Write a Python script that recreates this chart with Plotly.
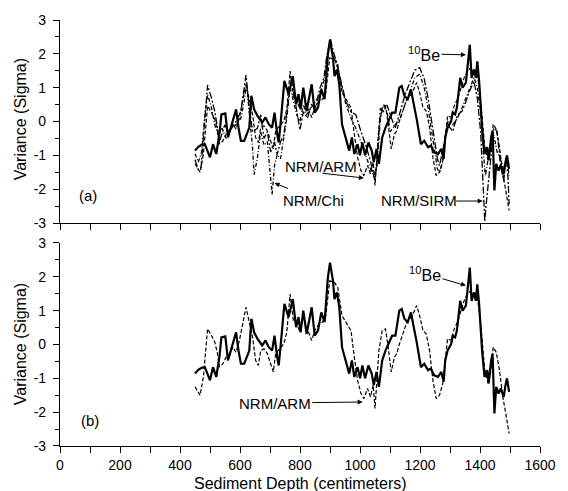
import plotly.graph_objects as go

# ---------------- data ----------------
be_depth = [450, 461, 472, 483, 500, 510, 521, 532, 538, 551, 560, 570, 579, 587, 595, 603, 614, 631, 638, 647,
            658, 674, 685, 696, 707, 715, 724, 729, 735, 748, 762, 776, 787, 795, 802, 811, 822, 839, 849, 860,
            871, 882, 893, 900, 910, 915, 923, 931, 940, 953, 964, 973, 981, 992, 1000, 1008, 1017, 1028, 1039, 1046,
            1055, 1063, 1074, 1085, 1095, 1107, 1118, 1131, 1139, 1148, 1159, 1170, 1178, 1189, 1203, 1214, 1227, 1236, 1247, 1260,
            1271, 1279, 1284, 1292, 1304, 1309, 1317, 1323, 1334, 1342, 1353, 1360, 1366, 1372, 1380, 1386, 1391, 1397, 1402, 1407,
            1415, 1424, 1429, 1437, 1442, 1448, 1454, 1462, 1469, 1479, 1485, 1490, 1497]
be_val = [-0.86, -0.75, -0.69, -0.67, -1.06, -0.67, -0.96, -0.32, 0.21, 0.24, -0.47, -0.18, 0.07, 0.36, -0.18, -0.57, -0.57, -0.18, 0.76, 0.36,
          0.17, -0.03, 0.12, -0.08, -0.18, 0.26, -0.37, -0.62, -0.08, 1.20, 0.81, 1.34, 0.51, 0.81, 0.36, 1.00, 0.31, 1.10, 0.26, 0.41,
          0.95, 0.66, 1.98, 2.42, 1.88, 1.34, 1.54, 1.10, -0.08, -0.52, -0.86, -0.47, -0.96, -0.67, -1.00, -0.62, -1.00, -0.62, -0.86, -1.20,
          -0.81, -1.25, -0.47, -0.18, 0.02, 0.26, 0.26, 1.00, 1.05, 0.76, 0.66, 0.95, 0.56, 0.07, -0.67, -0.57, -0.76, -0.71, -0.91, -0.96,
          -0.81, -1.10, -0.47, -0.18, 0.02, 0.26, 0.21, 0.41, 1.29, 1.00, 1.15, 1.78, 2.27, 1.29, 1.54, 1.29, 1.78, 1.20, 0.46, -0.18,
          -0.96, -0.76, -1.15, -0.47, -0.27, -2.04, -1.25, -1.45, -1.30, -1.55, -1.20, -1.00, -1.40]

arm_depth = [450, 467, 478, 492, 505, 516, 525, 532, 543, 554, 565, 576, 587, 598, 609, 620, 631, 642, 652, 661,
             669, 680, 691, 698, 711, 719, 735, 746, 756, 767, 778, 789, 798, 811, 822, 839, 849, 860, 875, 886,
             899, 915, 926, 940, 953, 970, 981, 992, 1003, 1013, 1025, 1035, 1044, 1050, 1057, 1063, 1074, 1085, 1094, 1104,
             1115, 1123, 1128, 1139, 1156, 1172, 1189, 1200, 1210, 1221, 1232, 1243, 1254, 1265, 1276, 1284, 1292, 1304, 1314, 1325,
             1336, 1347, 1358, 1369, 1380, 1391, 1400, 1408, 1416, 1427, 1435, 1444, 1454, 1465, 1476, 1486, 1497]
arm_val = [-1.25, -1.50, -0.96, 0.46, 0.26, 0.07, -0.27, -0.67, -0.57, -0.37, -0.32, -0.08, -0.23, 0.12, 0.61, 1.10, 0.66, 0.21, -0.47, -0.62,
           -0.18, -0.13, -0.27, -0.47, -0.81, -0.27, -0.08, 0.02, 0.36, 1.49, 0.71, 0.61, 0.41, 0.85, 0.51, 0.12, 0.41, 0.56, 0.66, 0.85,
           1.88, 1.83, 1.68, 0.85, 0.66, 0.41, -0.37, -1.06, -1.45, -1.60, -1.30, -1.55, -1.20, -1.89, -0.96, -0.18, 0.41, 0.46, -0.08, -0.81,
           -0.37, -0.27, -0.08, 0.21, 0.66, 0.81, 1.15, 0.81, 0.41, 0.31, -0.18, -1.06, -1.60, -1.50, -1.15, -0.47, 0.17, 0.12, 0.46, 0.66,
           0.95, 1.29, 1.49, 1.59, 1.44, 1.40, 0.81, -0.08, -0.76, -1.15, -0.86, -0.08, -0.23, -0.76, -1.55, -2.04, -2.63]

sirm_depth = [450, 461, 470, 481, 492, 505, 516, 532, 549, 564, 587, 603, 620, 631, 642, 658, 669, 680, 691, 702,
              715, 724, 735, 746, 756, 770, 778, 789, 800, 811, 825, 838, 852, 866, 880, 888, 901, 910, 920, 937,
              953, 970, 986, 1003, 1019, 1035, 1050, 1057, 1068, 1079, 1090, 1101, 1117, 1134, 1150, 1167, 1183, 1199, 1214, 1227,
              1238, 1249, 1258, 1265, 1273, 1282, 1293, 1309, 1325, 1340, 1353, 1364, 1380, 1391, 1402, 1410, 1416, 1420, 1435, 1446,
              1457, 1468, 1479, 1487, 1493, 1497]
sirm_val = [-1.13, -1.42, -1.37, -0.20, 1.08, 0.69, 0.30, -0.59, -0.10, -0.30, 0.00, 0.30, 1.37, 0.39, -0.30, -0.20, 0.20, -0.50, -0.30, -0.90,
            -0.60, -0.98, -0.60, -0.39, 0.29, 1.22, 0.90, 0.29, -0.25, 0.29, 0.10, 0.50, 0.40, 0.98, 1.30, 1.86, 2.45, 2.10, 1.81, 1.18,
            0.59, 0.29, 0.20, -0.29, -0.69, -1.18, -1.76, -1.08, 0.39, 0.30, 0.49, 0.20, -0.20, 0.29, 0.78, 1.18, 1.52, 1.59, 1.27, 0.69,
            0.10, -0.59, -1.10, -1.30, -1.00, -0.59, -0.10, -0.29, 0.20, 0.30, 0.59, 0.88, 1.18, 0.69, -0.29, -1.76, -2.95, -2.50, -1.08, -0.20,
            -0.29, -1.27, -1.76, -1.08, -1.57, -2.45]

chi_depth = [450, 461, 472, 483, 492, 505, 516, 527, 540, 554, 570, 587, 603, 614, 622, 631, 642, 647, 658, 669,
             680, 691, 702, 707, 715, 724, 735, 746, 756, 767, 778, 789, 800, 811, 822, 838, 852, 866, 880, 893,
             901, 912, 925, 940, 953, 970, 986, 1003, 1019, 1035, 1046, 1057, 1068, 1079, 1090, 1101, 1117, 1134, 1150, 1167,
             1183, 1199, 1214, 1227, 1238, 1249, 1258, 1265, 1276, 1284, 1293, 1309, 1325, 1340, 1353, 1364, 1380, 1391, 1402, 1410,
             1418, 1429, 1437, 1446, 1457, 1468, 1479, 1490, 1497]
chi_val = [-0.95, -1.20, -0.90, 0.20, 0.80, 0.40, -0.10, -0.40, -0.20, -0.50, -0.20, -0.10, 0.10, 0.60, 1.10, 0.20, -0.80, -1.57, -1.08, -0.30,
           -0.70, -0.59, -1.67, -2.16, -1.30, -0.98, -1.10, -0.39, 0.10, 1.00, 0.60, 0.20, 0.00, 0.50, 0.20, 0.40, 0.60, 0.80, 1.20, 2.00,
           2.30, 1.90, 1.60, 1.00, 0.50, 0.10, -0.20, -0.60, -1.00, -1.40, -1.60, -1.30, 0.10, 0.50, 0.30, -0.30, -0.10, 0.10, 0.50, 0.90,
           1.30, 1.40, 1.00, 0.40, -0.20, -0.90, -1.40, -1.50, -1.20, -0.40, 0.00, -0.10, 0.10, 0.40, 0.70, 0.90, 1.30, 1.00, 0.30, -0.80,
           -1.60, -1.00, -0.60, -0.40, -0.90, -1.10, -1.40, -1.20, -1.60]

x_ticks = [0, 200, 400, 600, 800, 1000, 1200, 1400, 1600]
y_ticks = [-3, -2, -1, 0, 1, 2, 3]
y_ticktext = ["-3", "-2", "-1", "0", "1", "2", "3"]

FONT = "Liberation Sans, Arial, sans-serif"
BLACK = "black"

fig = go.Figure()

# top panel (a)
fig.add_trace(go.Scatter(x=sirm_depth, y=sirm_val, xaxis="x2", yaxis="y", mode="lines",
                         line=dict(color=BLACK, width=1.3, dash="7px,2px,2px,2px")))
fig.add_trace(go.Scatter(x=chi_depth, y=chi_val, xaxis="x2", yaxis="y", mode="lines",
                         line=dict(color=BLACK, width=1.3, dash="4px,2px,1px,2px")))
fig.add_trace(go.Scatter(x=arm_depth, y=arm_val, xaxis="x2", yaxis="y", mode="lines",
                         line=dict(color=BLACK, width=1.2, dash="4px,2px")))
fig.add_trace(go.Scatter(x=be_depth, y=be_val, xaxis="x2", yaxis="y", mode="lines",
                         line=dict(color=BLACK, width=2.2)))

# bottom panel (b)
fig.add_trace(go.Scatter(x=arm_depth, y=arm_val, xaxis="x", yaxis="y2", mode="lines",
                         line=dict(color=BLACK, width=1.2, dash="4px,2px")))
fig.add_trace(go.Scatter(x=be_depth, y=be_val, xaxis="x", yaxis="y2", mode="lines",
                         line=dict(color=BLACK, width=2.2)))

axis_common = dict(showline=True, linecolor=BLACK, linewidth=1.2, ticks="outside", ticklen=6,
                   tickwidth=1, tickcolor=BLACK, showgrid=False, zeroline=False,
                   tickfont=dict(family=FONT, size=14, color=BLACK))

xminor = dict(dtick=100, tick0=0, ticks="outside", ticklen=6, tickcolor=BLACK, showgrid=False)
yminor = dict(dtick=0.5, tick0=0, ticks="outside", ticklen=4, tickcolor=BLACK, showgrid=False)

fig.update_layout(
    width=568, height=491,
    margin=dict(l=60, r=20, t=18, b=45),
    paper_bgcolor="white", plot_bgcolor="white",
    showlegend=False,
    font=dict(family=FONT, color=BLACK),
    xaxis=dict(anchor="y2", range=[0, 1600], tickvals=x_ticks, minor=xminor,
               ticklabelstandoff=0, **axis_common),
    xaxis2=dict(anchor="y", matches="x", range=[0, 1600], tickvals=x_ticks, showticklabels=False,
                minor=xminor, **axis_common),
    yaxis=dict(domain=[0.5234, 1.0], anchor="x2", range=[-3, 3], tickvals=y_ticks, ticktext=y_ticktext,
               minor=yminor, ticklabelstandoff=4, **axis_common),
    yaxis2=dict(domain=[0.0, 0.4766], anchor="x", range=[-3, 3], tickvals=y_ticks, ticktext=y_ticktext,
                minor=yminor, ticklabelstandoff=4, **axis_common),
)

ann_font = dict(family=FONT, size=15, color=BLACK)
arrow = dict(showarrow=True, arrowhead=2, arrowsize=1, arrowwidth=1, arrowcolor=BLACK)
annotations = [
    # axis titles
    dict(text="Variance (Sigma)", xref="paper", yref="paper", x=-0.082, y=0.766, textangle=-90,
         xanchor="center", yanchor="middle", showarrow=False, font=dict(family=FONT, size=16, color=BLACK)),
    dict(text="Variance (Sigma)", xref="paper", yref="paper", x=-0.082, y=0.238, textangle=-90,
         xanchor="center", yanchor="middle", showarrow=False, font=dict(family=FONT, size=16, color=BLACK)),
    dict(text="Sediment Depth (centimeters)", xref="paper", yref="paper", x=0.5, y=-0.088,
         xanchor="center", yanchor="middle", showarrow=False, font=dict(family=FONT, size=16, color=BLACK)),
    # panel letters
    dict(text="(a)", xref="x2", yref="y", x=94, y=-2.2, showarrow=False, font=ann_font),
    dict(text="(b)", xref="x", yref="y2", x=100, y=-2.26, showarrow=False, font=ann_font),
    # top panel labels
    dict(text="<sup>10</sup>Be", xref="x2", yref="y", x=1353, y=1.97, ax=-42, ay=-1,
         font=dict(family=FONT, size=16, color=BLACK), **arrow),
    dict(text="NRM/ARM", xref="x2", yref="y", x=869, y=-1.34, showarrow=False, font=ann_font),
    dict(text="", xref="x2", yref="y", x=1013, y=-1.67, ax=-43, ay=-5, **arrow),
    dict(text="NRM/Chi", xref="x2", yref="y", x=845, y=-2.32, showarrow=False, font=ann_font),
    dict(text="", xref="x2", yref="y", x=715, y=-1.82, ax=15, ay=6, **arrow),
    dict(text="NRM/SIRM", xref="x2", yref="y", x=1196, y=-2.32, showarrow=False, font=ann_font),
    dict(text="", xref="x2", yref="y", x=1409, y=-2.35, ax=-28, ay=0, **arrow),
    # bottom panel labels
    dict(text="<sup>10</sup>Be", xref="x", yref="y2", x=1353, y=1.74, ax=-41, ay=-12,
         font=dict(family=FONT, size=16, color=BLACK), **arrow),
    dict(text="NRM/ARM", xref="x", yref="y2", x=1009, y=-1.70, ax=-88, ay=1,
         font=ann_font, **arrow),
]
fig.update_layout(annotations=annotations)

fig.write_html("out.html")
